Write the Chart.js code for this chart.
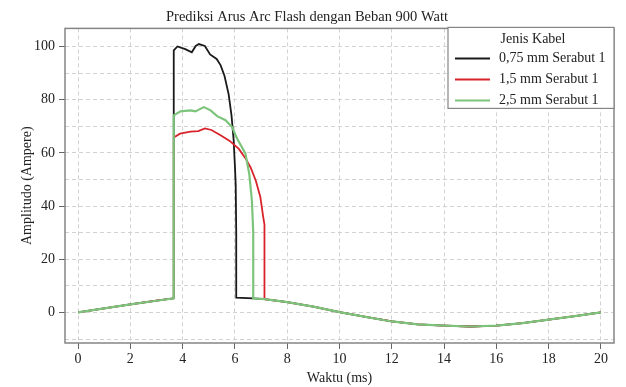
<!DOCTYPE html>
<html lang="en">
<head>
    <meta charset="UTF-8">
    <title>Prediksi Arus Arc Flash</title>
    <style>
        body {
            margin: 0;
            padding: 0;
            background-color: #fff;
        }

        #chartBox {
            width: 626px;
            height: 387px;
        }
    </style>
</head>
<body>
    <div id="chartBox">
        <canvas id="arcChart"></canvas>
    </div>

    <script src="https://cdn.jsdelivr.net/npm/chart.js"></script>
    <script>
        // Waveform before the arc starts (shared by all cables)
        const timeBefore = [0, 1, 2, 3, 3.66];
        const ampBefore = [0, 1.5, 3.0, 4.4, 5.3];

        // Waveform after the arc is cleared (shared by all cables)
        const timeAfter = [6.05, 6.7, 7.13, 8, 9, 10, 11, 12, 13, 14, 15, 16, 17, 18, 19, 20];
        const ampAfter = [5.6, 5.3, 5.0, 3.9, 2.2, 0.1, -1.7, -3.4, -4.5, -5.0, -5.3, -5.0, -4.0, -2.7, -1.4, 0];

        // Arc current, 0,75 mm cable
        const time075 = [3.66, 3.66, 3.8, 4.1, 4.35, 4.5, 4.62, 4.85, 5.05, 5.3, 5.45, 5.6, 5.76, 5.87, 5.95, 6.0, 6.03, 6.05, 6.05];
        const amp075 = [5.3, 98.5, 100, 99, 97.8, 100.2, 100.9, 100.2, 97, 95.3, 93, 89, 82, 74, 65, 55, 48, 30, 5.6];

        // Arc current, 1,5 mm cable
        const time15 = [3.66, 3.66, 3.9, 4.3, 4.6, 4.85, 5.1, 5.45, 5.8, 6.15, 6.4, 6.6, 6.8, 6.97, 7.08, 7.13, 7.13];
        const amp15 = [5.3, 65.8, 67.2, 68, 68.2, 69.2, 68.6, 66.6, 64.5, 61.5, 58, 54.5, 49.5, 43.5, 36, 33, 5.0];

        // Arc current, 2,5 mm cable
        const time25 = [3.66, 3.66, 3.92, 4.3, 4.49, 4.81, 5.07, 5.32, 5.64, 5.89, 6.08, 6.4, 6.55, 6.65, 6.7, 6.7];
        const amp25 = [5.3, 74.1, 75.6, 76, 75.6, 77.2, 76, 73.8, 72.3, 69.7, 65.4, 59.8, 52, 42, 30, 5.3];

        const seriesLabels = ['0,75 mm Serabut 1', '1,5 mm Serabut 1', '2,5 mm Serabut 1'];
        const seriesColors = ['#1a1a1a', '#d8232a', '#7cc47c'];
        const seriesWidths = [1.8, 1.8, 2.2];

        const xTicks = { min: -0.5, max: 20.5, step: 2 };
        const yTicks = { min: -11.5, max: 106.8, step: 10 };

        function toPoints(times, amps) {
            return times.map((t, i) => ({ x: t, y: amps[i] }));
        }

        // before-arc part + arc + the after-arc part beyond the arc's end
        function buildSeries(times, amps) {
            const endTime = times[times.length - 1];
            const tail = toPoints(timeAfter, ampAfter).filter(p => p.x > endTime);
            return toPoints(timeBefore.slice(0, -1), ampBefore.slice(0, -1))
                .concat(toPoints(times, amps), tail);
        }

        const serif = 'Liberation Serif';
        const textColor = '#222';

        // Grey frame around the plot area
        const frame = {
            id: 'frame',
            afterDatasetsDraw(chart) {
                const { ctx, chartArea: a } = chart;
                ctx.save();
                ctx.strokeStyle = '#858585';
                ctx.lineWidth = 1.5;
                ctx.strokeRect(a.left, a.top, a.right - a.left, a.bottom - a.top);
                ctx.restore();
            }
        };

        // Legend box tucked in the top-right corner of the plot
        const cornerLegend = {
            id: 'cornerLegend',
            afterDraw(chart) {
                const { ctx, chartArea: a } = chart;
                const w = 166, h = 81;
                const left = a.right - w, top = a.top - 1;
                ctx.save();
                ctx.fillStyle = '#fff';
                ctx.fillRect(left, top, w, h);
                ctx.strokeStyle = '#858585';
                ctx.lineWidth = 1.2;
                ctx.strokeRect(left, top, w, h);

                ctx.fillStyle = textColor;
                ctx.font = '14px "' + serif + '"';
                ctx.textBaseline = 'middle';
                ctx.textAlign = 'center';
                ctx.fillText('Jenis Kabel', left + 85, top + 12);

                ctx.textAlign = 'left';
                seriesLabels.forEach((label, i) => {
                    const y = top + 31 + i * 21;
                    ctx.strokeStyle = seriesColors[i];
                    ctx.lineWidth = 2;
                    ctx.beginPath();
                    ctx.moveTo(left + 7, y);
                    ctx.lineTo(left + 42, y);
                    ctx.stroke();
                    ctx.fillStyle = textColor;
                    ctx.fillText(label, left + 51, y);
                });
                ctx.restore();
            }
        };

        const ctx = document.getElementById('arcChart').getContext('2d');
        const datasets = [
            buildSeries(time075, amp075),
            buildSeries(time15, amp15),
            buildSeries(time25, amp25)
        ].map((data, i) => ({
            label: seriesLabels[i],
            data: data,
            borderColor: seriesColors[i],
            borderWidth: seriesWidths[i],
            pointRadius: 0,
            tension: 0,
            order: 2 - i // green ends up on top
        }));

        new Chart(ctx, {
            type: 'line',
            data: { datasets },
            options: {
                responsive: true,
                maintainAspectRatio: false,
                animation: false,
                layout: { padding: { left: 0, right: 12, top: 0, bottom: 0 } },
                plugins: {
                    legend: { display: false },
                    tooltip: { enabled: false },
                    title: {
                        display: true,
                        text: 'Prediksi Arus Arc Flash dengan Beban 900 Watt',
                        color: textColor,
                        font: { family: serif, size: 14.5, weight: 'normal' },
                        padding: { top: 8, bottom: 3 }
                    }
                },
                scales: {
                    x: {
                        type: 'linear',
                        min: xTicks.min,
                        max: xTicks.max,
                        afterFit(scale) { scale.height = 44; },
                        ticks: {
                            stepSize: xTicks.step,
                            includeBounds: false,
                            color: textColor,
                            font: { family: serif, size: 14 },
                            padding: 2,
                            maxRotation: 0
                        },
                        grid: {
                            color: '#d2d2d2',
                            tickColor: '#666',
                            tickLength: 6
                        },
                        border: { display: false, dash: [4, 3] },
                        title: {
                            display: true,
                            text: 'Waktu (ms)',
                            color: textColor,
                            font: { family: serif, size: 14 },
                            padding: { top: 0, bottom: 0 }
                        }
                    },
                    y: {
                        min: yTicks.min,
                        max: yTicks.max,
                        afterFit(scale) { scale.width = 65; },
                        ticks: {
                            stepSize: yTicks.step,
                            includeBounds: false,
                            color: textColor,
                            font: { family: serif, size: 14 },
                            padding: 4,
                            callback: v => (v % 20 === 0 ? v : '')
                        },
                        grid: {
                            color: '#d2d2d2',
                            tickColor: c => (c.tick && c.tick.value % 20 === 0 ? '#666' : 'rgba(0,0,0,0)'),
                            tickLength: 6
                        },
                        border: { display: false, dash: [4, 3] },
                        title: {
                            display: true,
                            text: 'Amplitudo (Ampere)',
                            color: textColor,
                            font: { family: serif, size: 14 },
                            padding: { top: 19, bottom: 0 }
                        }
                    }
                }
            },
            plugins: [frame, cornerLegend]
        });
    </script>
</body>
</html>
